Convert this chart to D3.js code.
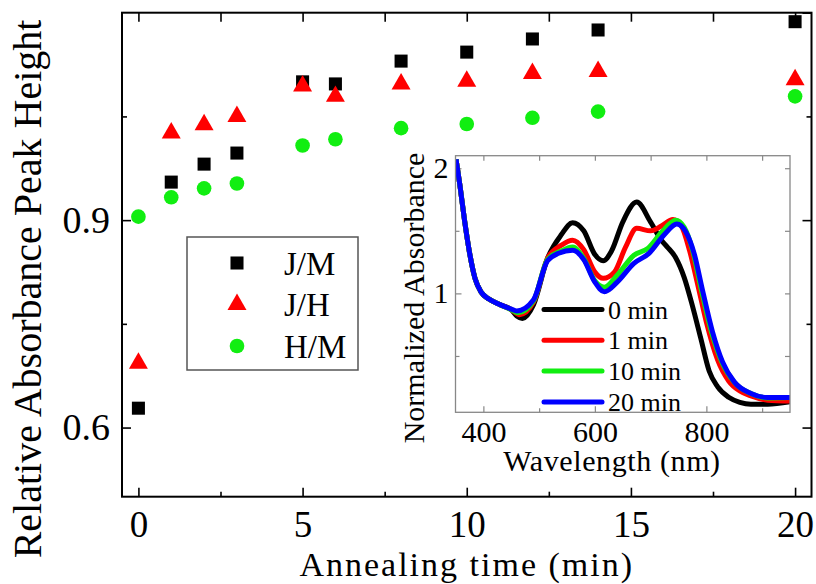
<!DOCTYPE html>
<html>
<head>
<meta charset="utf-8">
<script src="https://cdn.jsdelivr.net/npm/d3@7"></script>
<style>
body { margin: 0; background: #fff; }
svg text { font-family: "Liberation Serif", "Times New Roman", serif; fill: #000; }
</style>
</head>
<body>
<svg id="chart" width="816" height="584"></svg>
<script>
// annealing times (min) and peak height ratios
const times = [0, 1, 2, 3, 5, 6, 8, 10, 12, 14, 20];
const jm = [0.628, 0.955, 0.981, 0.997, 1.100, 1.097, 1.130, 1.143, 1.162, 1.175, 1.187];
const jh = [0.693, 1.026, 1.038, 1.050, 1.094, 1.079, 1.097, 1.101, 1.112, 1.115, 1.103];
const hm = [0.905, 0.933, 0.946, 0.953, 1.008, 1.017, 1.033, 1.039, 1.048, 1.057, 1.079];

const xTicks = [0, 5, 10, 15, 20];
const xMinor = [2.5, 7.5, 12.5, 17.5];
const yTicks = [0.6, 0.9];
const yMinor = [0.75, 1.05];

// inset spectra: wavelength (nm) / normalized absorbance
const wl0 = [351,358,366,375,385,396,410,430,450,460,470,490,515,540,560,580,600,615,630,650,675,700,720,730,745,760,775,790,805,820,840,860,880,910,950];
const a0  = [2.07,1.86,1.59,1.33,1.12,1.01,0.955,0.91,0.87,0.82,0.80,0.91,1.28,1.47,1.565,1.50,1.31,1.26,1.34,1.57,1.73,1.57,1.42,1.37,1.285,1.13,0.90,0.64,0.38,0.255,0.17,0.13,0.115,0.115,0.135];
const wl1 = [351,358,366,375,385,396,410,430,450,465,490,515,540,560,580,600,615,635,655,675,700,720,740,755,770,785,800,820,840,860,880,910,950];
const a1  = [2.07,1.86,1.59,1.33,1.12,1.01,0.955,0.91,0.87,0.83,0.93,1.28,1.385,1.425,1.35,1.17,1.12,1.17,1.37,1.52,1.50,1.54,1.59,1.54,1.34,1.06,0.77,0.47,0.30,0.22,0.18,0.147,0.14];
const wl2 = [351,358,366,375,385,396,410,430,450,462,490,515,540,560,580,600,617,640,670,695,720,745,760,775,790,808,826,850,880,910,950];
const a2  = [2.07,1.86,1.59,1.33,1.12,1.01,0.955,0.91,0.87,0.845,0.94,1.27,1.34,1.37,1.28,1.10,1.05,1.145,1.305,1.36,1.49,1.585,1.53,1.35,1.05,0.71,0.47,0.29,0.20,0.165,0.168];
const wl3 = [351,358,366,375,385,396,410,430,450,460,490,515,535,560,580,600,617,640,670,697,724,747,763,778,793,811,829,850,880,910,950];
const a3  = [2.07,1.86,1.59,1.33,1.12,1.01,0.955,0.91,0.875,0.86,0.95,1.26,1.32,1.345,1.27,1.09,1.013,1.09,1.24,1.32,1.467,1.555,1.493,1.32,1.027,0.693,0.453,0.293,0.20,0.168,0.168];
const specNames = ["0 min", "1 min", "10 min", "20 min"];
const specColors = ["#000000", "#ff0000", "#11ee11", "#0000ff"];

const insetXTicks = [400, 600, 800];
const insetXMinor = [500, 700, 900];
const insetYTicks = [1, 2];
const insetYMinor = [0.5, 1.5];

const svg = d3.select("#chart");

const box = {left: 122, right: 811.5, top: 12.7, bottom: 496.7};
const x = d3.scaleLinear().domain([-0.5, 20.5]).range([box.left, box.right]);
const y = d3.scaleLinear().domain([0.5, 1.2]).range([box.bottom, box.top]);

function tickAxis(g, axis) {
	g.call(axis);
	g.select(".domain").remove();
	g.selectAll(".tick line").attr("stroke-width", 1.6);
	return g;
}

// main axes: ticks point inward
tickAxis(svg.append("g").attr("transform", "translate(0," + box.bottom + ")"),
	d3.axisBottom(x).tickValues(xTicks).tickSize(-9).tickPadding(14).tickFormat(d3.format("d")))
	.selectAll("text").style("font-size", "37px");
tickAxis(svg.append("g").attr("transform", "translate(0," + box.bottom + ")"),
	d3.axisBottom(x).tickValues(xMinor).tickSize(-5).tickFormat(""));
tickAxis(svg.append("g").attr("transform", "translate(0," + box.top + ")"),
	d3.axisTop(x).tickValues(xTicks.concat(xMinor)).tickSize(-9).tickFormat(""));

tickAxis(svg.append("g").attr("transform", "translate(" + box.left + ",0)"),
	d3.axisLeft(y).tickValues(yTicks).tickSize(-9).tickPadding(12).tickFormat(d3.format(".1f")))
	.selectAll("text").style("font-size", "38px");
tickAxis(svg.append("g").attr("transform", "translate(" + box.left + ",0)"),
	d3.axisLeft(y).tickValues(yMinor).tickSize(-5).tickFormat(""));
tickAxis(svg.append("g").attr("transform", "translate(" + box.right + ",0)"),
	d3.axisRight(y).tickValues(yTicks.concat([1.2])).tickSize(-9).tickFormat(""));
tickAxis(svg.append("g").attr("transform", "translate(" + box.right + ",0)"),
	d3.axisRight(y).tickValues(yMinor).tickSize(-5).tickFormat(""));

svg.append("rect")
	.attr("x", box.left).attr("y", box.top)
	.attr("width", box.right - box.left).attr("height", box.bottom - box.top)
	.attr("fill", "none").attr("stroke", "#000").attr("stroke-width", 2);

svg.append("text")
	.attr("x", (box.left + box.right) / 2).attr("y", 576)
	.attr("text-anchor", "middle").style("font-size", "34px")
	.style("letter-spacing", "2px")
	.text("Annealing time (min)");

svg.append("text")
	.attr("transform", "translate(41,289) rotate(-90)")
	.attr("text-anchor", "middle").style("font-size", "40px")
	.text("Relative Absorbance Peak Height");

// markers
const sqr = d3.symbol().type(d3.symbolSquare).size(170);
const tri = d3.symbol().type(d3.symbolTriangle).size(156);
const dot = d3.symbol().type(d3.symbolCircle).size(168);

const series = [
	{name: "J/M", vals: jm, sym: sqr, color: "#000000"},
	{name: "J/H", vals: jh, sym: tri, color: "#ff0000"},
	{name: "H/M", vals: hm, sym: dot, color: "#11ee11"}
];

series.forEach(function(s) {
	svg.append("g").selectAll("path")
		.data(times)
		.enter().append("path")
		.attr("d", s.sym())
		.attr("fill", s.color)
		.attr("transform", function(t, i) {
			return "translate(" + x(t) + "," + y(s.vals[i]) + ")";
		});
});

// legend
const leg = svg.append("g");
leg.append("rect")
	.attr("x", 187).attr("y", 237).attr("width", 171).attr("height", 133)
	.attr("fill", "#fff").attr("stroke", "#555").attr("stroke-width", 1.5);
series.forEach(function(s, i) {
	let cy = 263 + i * 41.5;
	leg.append("path").attr("d", s.sym()).attr("fill", s.color)
		.attr("transform", "translate(237," + cy + ")");
	leg.append("text").attr("x", 284).attr("y", cy).attr("dy", "0.35em")
		.style("font-size", "33px").text(s.name);
});

// inset
const ib = {left: 455.5, right: 790, top: 155.7, bottom: 412.3};
const ix = d3.scaleLinear().domain([350, 950]).range([ib.left, ib.right]);
const iy = d3.scaleLinear().domain([0.05, 2.1]).range([ib.bottom, ib.top]);
const inset = svg.append("g");

inset.append("rect")
	.attr("x", ib.left).attr("y", ib.top)
	.attr("width", ib.right - ib.left).attr("height", ib.bottom - ib.top)
	.attr("fill", "#fff");

function insetAxis(g, axis) {
	tickAxis(g, axis);
	g.selectAll(".tick line").attr("stroke", "#888").attr("stroke-width", 1.2);
	g.selectAll("text").style("font-size", "30px").attr("fill", "#000");
	return g;
}
insetAxis(inset.append("g").attr("transform", "translate(0," + ib.bottom + ")"),
	d3.axisBottom(ix).tickValues(insetXTicks).tickSize(-6).tickPadding(8).tickFormat(d3.format("d")));
insetAxis(inset.append("g").attr("transform", "translate(0," + ib.bottom + ")"),
	d3.axisBottom(ix).tickValues(insetXMinor).tickSize(-4).tickFormat(""));
insetAxis(inset.append("g").attr("transform", "translate(0," + ib.top + ")"),
	d3.axisTop(ix).tickValues(insetXTicks.concat(insetXMinor)).tickSize(-5).tickFormat(""));
insetAxis(inset.append("g").attr("transform", "translate(" + ib.left + ",0)"),
	d3.axisLeft(iy).tickValues(insetYTicks).tickSize(-6).tickPadding(7).tickFormat(d3.format("d")));
insetAxis(inset.append("g").attr("transform", "translate(" + ib.left + ",0)"),
	d3.axisLeft(iy).tickValues(insetYMinor).tickSize(-4).tickFormat(""));
insetAxis(inset.append("g").attr("transform", "translate(" + ib.right + ",0)"),
	d3.axisRight(iy).tickValues(insetYTicks.concat(insetYMinor)).tickSize(-5).tickFormat(""));

svg.append("clipPath").attr("id", "insetClip")
	.append("rect")
	.attr("x", ib.left).attr("y", ib.top)
	.attr("width", ib.right - ib.left).attr("height", ib.bottom - ib.top);

const specs = [[wl0, a0], [wl1, a1], [wl2, a2], [wl3, a3]];
const line = d3.line()
	.x(function(d) { return ix(d[0]); })
	.y(function(d) { return iy(d[1]); })
	.curve(d3.curveMonotoneX);

inset.append("g").attr("clip-path", "url(#insetClip)")
	.selectAll("path")
	.data(specs)
	.enter().append("path")
	.attr("d", function(s) { return line(d3.zip(s[0], s[1])); })
	.attr("fill", "none")
	.attr("stroke", function(s, i) { return specColors[i]; })
	.attr("stroke-width", 5)
	.attr("stroke-linejoin", "round");

inset.append("rect")
	.attr("x", ib.left).attr("y", ib.top)
	.attr("width", ib.right - ib.left).attr("height", ib.bottom - ib.top)
	.attr("fill", "none").attr("stroke", "#888").attr("stroke-width", 1.3);

// inset legend
specNames.forEach(function(n, i) {
	let cy = 309.5 + i * 30.8;
	inset.append("line")
		.attr("x1", 544).attr("x2", 602).attr("y1", cy).attr("y2", cy)
		.attr("stroke", specColors[i]).attr("stroke-width", 5).attr("stroke-linecap", "round");
	inset.append("text").attr("x", 608).attr("y", cy).attr("dy", "0.35em")
		.style("font-size", "26px").text(n);
});

inset.append("text")
	.attr("x", 612).attr("y", 471)
	.attr("text-anchor", "middle").style("font-size", "30px")
	.style("letter-spacing", "0.6px")
	.text("Wavelength (nm)");

inset.append("text")
	.attr("transform", "translate(424,298) rotate(-90)")
	.attr("text-anchor", "middle").style("font-size", "30px")
	.text("Normalized Absorbance");
</script>
</body>
</html>
